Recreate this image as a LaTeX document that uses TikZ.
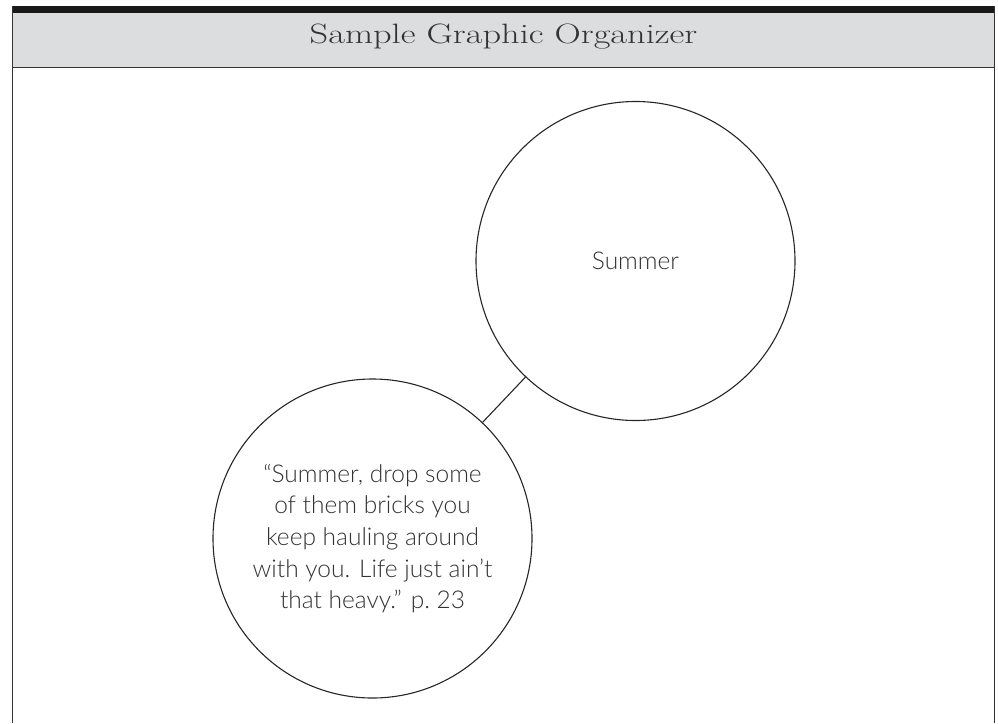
\documentclass[tikz,border=0pt]{standalone}
\usepackage{fontspec}
\newfontfamily\handfont{Lato Light}
\definecolor{headgray}{HTML}{DCDDDF}
\definecolor{inkgray}{HTML}{333333}
\tikzset{
  bubble/.style={circle, draw=black!85, line width=1.1pt, minimum size=319pt, inner sep=0pt,
    align=center, text=inkgray, font=\handfont\fontsize{24.5}{31.7}\selectfont},
  frameline/.style={draw=black!80, line width=1pt},
  link/.style={draw=black!85, line width=1.1pt}
}
\begin{document}
\begin{tikzpicture}[x=1pt,y=-1pt]
\useasboundingbox (0,0) rectangle (998,723);
\fill[headgray] (12,12) rectangle (994,67);
\fill[black!90] (12,6) rectangle (994,12.5);
\draw[frameline] (12,67) -- (994,67);
\draw[frameline] (12,6) -- (12,723);
\draw[frameline] (994,6) -- (994,723);
\node[anchor=base, text=inkgray, font=\fontsize{28}{30}\selectfont] (title) at (503.5,43.5) {\scalebox{1.3}[1]{Sample Graphic Organizer}};
\node[bubble] (summer) at (635.5,261) {Summer};
\node[bubble] (quote) at (372.5,538.5) {“Summer, drop some\\of them bricks you\\keep hauling around\\with you. Life just ain’t\\that heavy.” p.~23};
\draw[link] (quote) -- (summer);
\end{tikzpicture}
\end{document}
